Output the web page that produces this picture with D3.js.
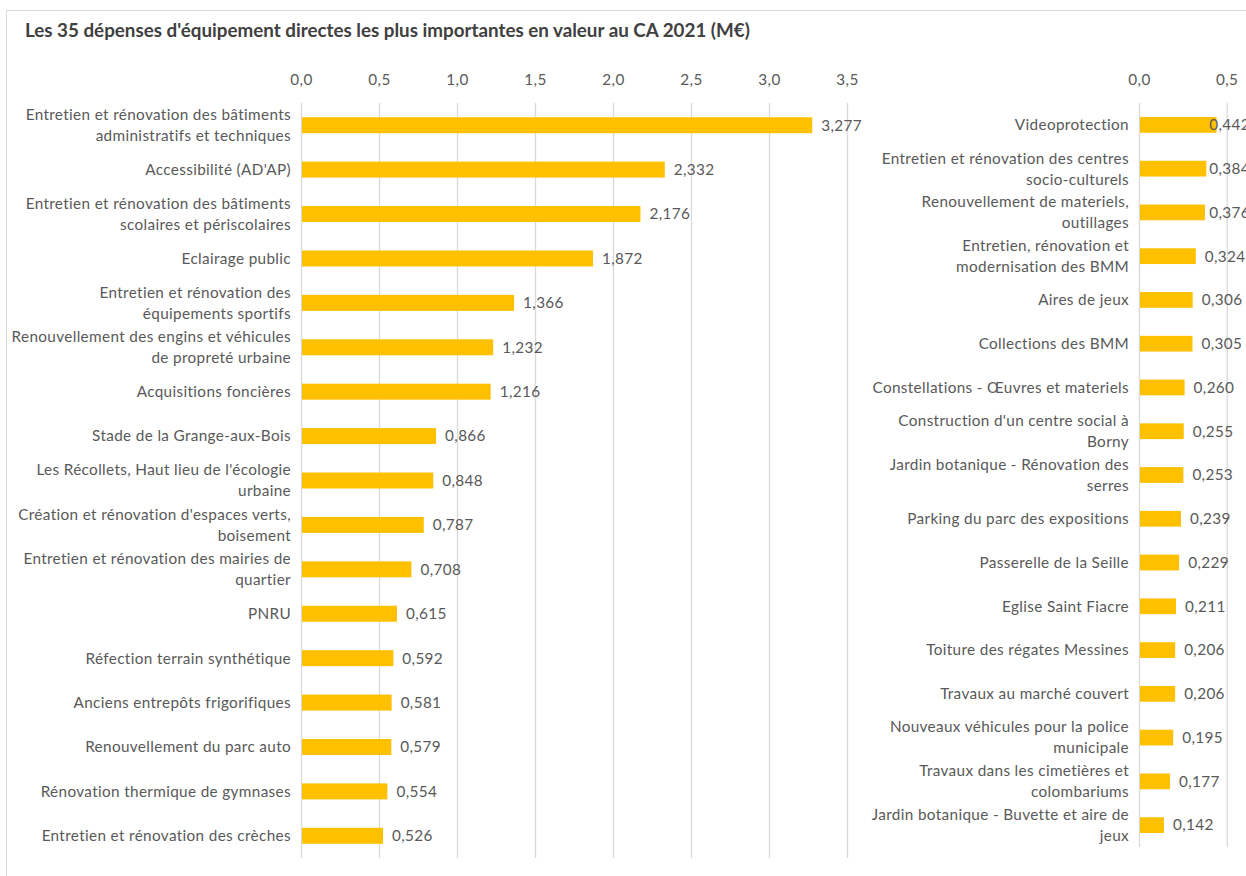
<!DOCTYPE html>
<html>
<head>
<meta charset="utf-8">
<script src="https://cdn.jsdelivr.net/npm/d3@7"></script>
<style>
  html, body { margin: 0; padding: 0; background: #fff; }
  svg { display: block; font-family: Lato, "Open Sans", sans-serif; }
</style>
</head>
<body>
<svg id="chart" width="1246" height="876"></svg>
<script>
// Left panel: the 17 largest items
const leftCategories = [
  "Entretien et rénovation des bâtiments\nadministratifs et techniques",
  "Accessibilité (AD'AP)",
  "Entretien et rénovation des bâtiments\nscolaires et périscolaires",
  "Eclairage public",
  "Entretien et rénovation des\néquipements sportifs",
  "Renouvellement des engins et véhicules\nde propreté urbaine",
  "Acquisitions foncières",
  "Stade de la Grange-aux-Bois",
  "Les Récollets, Haut lieu de l'écologie\nurbaine",
  "Création et rénovation d'espaces verts,\nboisement",
  "Entretien et rénovation des mairies de\nquartier",
  "PNRU",
  "Réfection terrain synthétique",
  "Anciens entrepôts frigorifiques",
  "Renouvellement du parc auto",
  "Rénovation thermique de gymnases",
  "Entretien et rénovation des crèches"
];
const leftValues = [3.277, 2.332, 2.176, 1.872, 1.366, 1.232, 1.216, 0.866, 0.848,
                    0.787, 0.708, 0.615, 0.592, 0.581, 0.579, 0.554, 0.526];
const leftTicks = [0, 0.5, 1, 1.5, 2, 2.5, 3, 3.5];

// Right panel: the following items
const rightCategories = [
  "Videoprotection",
  "Entretien et rénovation des centres\nsocio-culturels",
  "Renouvellement de materiels,\noutillages",
  "Entretien, rénovation et\nmodernisation des BMM",
  "Aires de jeux",
  "Collections des BMM",
  "Constellations - Œuvres et materiels",
  "Construction d'un centre social à\nBorny",
  "Jardin botanique - Rénovation des\nserres",
  "Parking du parc des expositions",
  "Passerelle de la Seille",
  "Eglise Saint Fiacre",
  "Toiture des régates Messines",
  "Travaux au marché couvert",
  "Nouveaux véhicules pour la police\nmunicipale",
  "Travaux dans les cimetières et\ncolombariums",
  "Jardin botanique - Buvette et aire de\njeux"
];
const rightValues = [0.442, 0.384, 0.376, 0.324, 0.306, 0.305, 0.260, 0.255, 0.253,
                     0.239, 0.229, 0.211, 0.206, 0.206, 0.195, 0.177, 0.142];
const rightTicks = [0, 0.5];

const title = "Les 35 dépenses d'équipement directes les plus importantes en valeur au CA 2021 (M€)";

const BAR = "#FFC000", GRID = "#D9D9D9", TEXT = "#595959";
const FONT = 15.3, SPACING = "0.35px";
const CHART_RIGHT = 1250; // right edge of the chart area (value labels stay inside it)
const fmtTick = v => d3.format(".1f")(v).replace(".", ",");
const fmtVal = v => d3.format(".3f")(v).replace(".", ",");

const svg = d3.select("#chart");

// chart frame
svg.append("rect")
  .attr("x", 6.5).attr("y", 10.5).attr("width", 1400).attr("height", 1000)
  .attr("fill", "#fff").attr("stroke", GRID).attr("stroke-width", 1);

svg.append("text")
  .attr("x", 25).attr("y", 37)
  .attr("font-size", 18.8).attr("font-weight", "bold").attr("fill", "#404040")
  .text(title);

function panel(cfg) {
  const x = d3.scaleLinear().domain(cfg.domain).range(cfg.xRange);
  const y = d3.scaleBand().domain(d3.range(cfg.categories.length))
    .range(cfg.yRange).paddingInner(0.64).paddingOuter(0.32);
  const g = svg.append("g");

  // vertical gridlines and top tick labels
  const axis = d3.axisTop(x).tickValues(cfg.ticks).tickFormat(fmtTick)
    .tickSize(-(cfg.yRange[1] - cfg.yRange[0])).tickPadding(0);
  const ag = g.append("g").attr("transform", `translate(0,${cfg.yRange[0]})`).call(axis);
  ag.select(".domain").remove();
  ag.selectAll(".tick line").attr("stroke", GRID).attr("stroke-width", 1.3);
  ag.selectAll(".tick text")
    .attr("y", cfg.tickY - cfg.yRange[0]).attr("dy", "0.35em")
    .attr("fill", TEXT).attr("font-size", FONT).attr("letter-spacing", SPACING)
    .attr("font-family", "Lato, sans-serif");

  // bars
  g.selectAll("rect.bar").data(cfg.values).join("rect")
    .attr("class", "bar")
    .attr("x", x(0) + 1).attr("y", (d, i) => y(i))
    .attr("width", d => x(d) - x(0) - 1).attr("height", y.bandwidth())
    .attr("fill", BAR);

  // value labels, pulled left when they would run past the chart edge
  g.selectAll("text.val").data(cfg.values).join("text")
    .attr("class", "val")
    .attr("y", (d, i) => y(i) + y.bandwidth() / 2)
    .attr("dy", "0.35em").attr("fill", TEXT).attr("font-size", FONT)
    .attr("letter-spacing", SPACING)
    .text(d => fmtVal(d))
    .attr("x", function (d) {
      const w = this.getComputedTextLength();
      return Math.min(x(d) + 9, CHART_RIGHT - w);
    });

  // category labels, right-aligned, centred on the bar
  const lh = 21;
  g.selectAll("text.cat").data(cfg.categories).join("text")
    .attr("class", "cat")
    .attr("text-anchor", "end").attr("fill", TEXT).attr("font-size", FONT)
    .attr("letter-spacing", SPACING)
    .each(function (d, i) {
      const lines = d.split("\n");
      const cy = y(i) + y.bandwidth() / 2;
      const t = d3.select(this);
      lines.forEach((ln, k) => {
        t.append("tspan")
          .attr("x", x(0) - 10)
          .attr("y", cy + (k - (lines.length - 1) / 2) * lh)
          .attr("dy", "0.35em")
          .text(ln);
      });
    });
}

panel({
  categories: leftCategories, values: leftValues, ticks: leftTicks,
  domain: [0, 3.5], xRange: [301, 847], yRange: [103, 858], tickY: 80
});
panel({
  categories: rightCategories, values: rightValues, ticks: rightTicks,
  domain: [0, 0.5], xRange: [1139, 1226.7], yRange: [103, 847], tickY: 80
});
</script>
</body>
</html>
